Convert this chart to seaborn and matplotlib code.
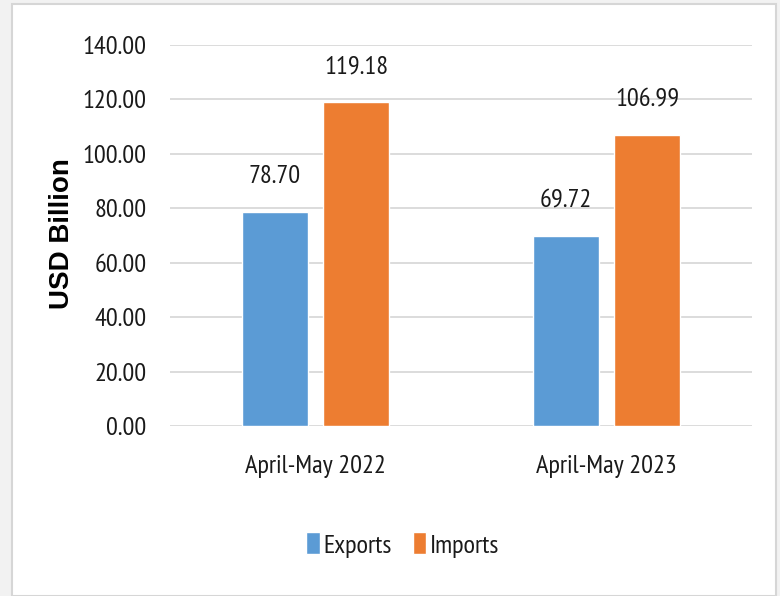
import matplotlib
matplotlib.use("Agg")
import matplotlib.pyplot as plt
from matplotlib import font_manager
from matplotlib.patches import Rectangle, Patch
import seaborn as sns
import pandas as pd

periods = ["April-May 2022", "April-May 2023"]
exports = [78.70, 69.72]
imports = [119.18, 106.99]
series_names = ["Exports", "Imports"]
y_ticks = [0, 20, 40, 60, 80, 100, 120, 140]

df = pd.DataFrame({
    "period": periods * 2,
    "value": exports + imports,
    "flow": [series_names[0]] * len(periods) + [series_names[1]] * len(periods),
})

sns.set_theme(style="white")
names = {f.name for f in font_manager.fontManager.ttflist}
narrow = "PT Sans Narrow" if "PT Sans Narrow" in names else "DejaVu Sans"
plt.rcParams["font.family"] = [narrow, "DejaVu Sans"]

BLUE = "#5B9BD5"
ORANGE = "#ED7D31"
TXT = "#1A1A1A"
FS = 19

fig = plt.figure(figsize=(7.8, 5.96), dpi=100)
fig.patch.set_facecolor("#F2F2F2")
fig.patches.append(Rectangle((12 / 780, 0), (776 - 12) / 780, 1 - 4 / 596,
                             transform=fig.transFigure, facecolor="white",
                             edgecolor="#D6D6D6", linewidth=1.5, zorder=-5))

ax = fig.add_axes([170 / 780, 1 - 426 / 596, (752 - 170) / 780, (426 - 45) / 596])
ax.set_facecolor("none")
sns.barplot(data=df, x="period", y="value", hue="flow", palette=[BLUE, ORANGE],
            width=0.56, gap=0.19, ax=ax, legend=False, saturation=1)

for c in ax.containers:
    ax.bar_label(c, fmt="%.2f", padding=17, fontsize=FS, color=TXT)

ax.set_ylim(0, 140)
ax.set_yticks(y_ticks)
ax.set_yticklabels([f"{v:.2f}" for v in y_ticks])
ax.grid(axis="y", color="#D9D9D9", linewidth=1.3)
ax.set_axisbelow(True)
for s in ax.spines.values():
    s.set_visible(False)
ax.tick_params(axis="y", length=0, pad=17, labelsize=FS, labelcolor=TXT)
ax.tick_params(axis="x", length=0, pad=21, labelsize=FS, labelcolor=TXT)
ax.set_xlabel("")
ax.set_ylabel("USD Billion", fontsize=20, fontweight="bold",
              family=["Liberation Sans", "DejaVu Sans"], color="black")
ax.yaxis.set_label_coords(-(170 - 75) / 582, (426 - 234) / 381)

handles = [Patch(facecolor=BLUE, label=series_names[0]),
           Patch(facecolor=ORANGE, label=series_names[1])]
fig.legend(handles=handles, loc="center", bbox_to_anchor=(403 / 780, 1 - 545 / 596),
           ncol=2, frameon=False, fontsize=FS, handlelength=0.5, handleheight=0.9,
           handletextpad=0.15, columnspacing=0.8, labelcolor=TXT)

fig.savefig("out.png", dpi=100)
